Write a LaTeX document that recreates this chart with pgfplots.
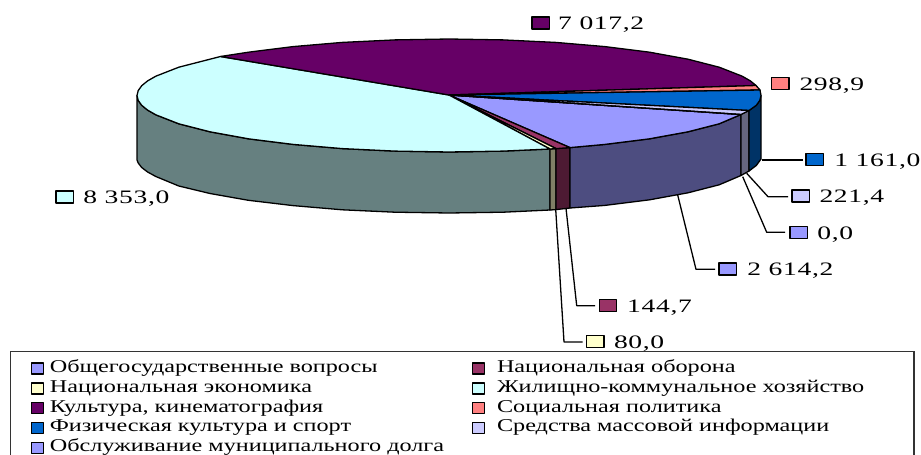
\documentclass[border=0pt]{standalone}
\usepackage{fontspec}
\usepackage{pgfplots}
\pgfplotsset{compat=1.18}
\setmainfont{Liberation Serif}
\newfontfamily\lbf[FakeStretch=1.45,LetterSpace=3.5]{Liberation Serif}
\newfontfamily\lgf[FakeStretch=1.345]{Liberation Serif}
\definecolor{cA}{HTML}{9999FF}\definecolor{cAw}{HTML}{4D4D80}
\definecolor{cB}{HTML}{993366}\definecolor{cBw}{HTML}{4D1A33}
\definecolor{cC}{HTML}{FFFFCC}\definecolor{cCw}{HTML}{808066}
\definecolor{cD}{HTML}{CCFFFF}\definecolor{cDw}{HTML}{668080}
\definecolor{cE}{HTML}{660066}
\definecolor{cF}{HTML}{FF8080}
\definecolor{cG}{HTML}{0066CC}\definecolor{cGw}{HTML}{003366}
\definecolor{cH}{HTML}{CCCCFF}\definecolor{cHw}{HTML}{666680}
\newcommand\lab[5]{% x y colour text textshift
  \addplot[forget plot,only marks,mark=square*,mark size=6pt,
    mark options={fill=#3,draw=black,line width=1.4pt,xscale=1.45},
    point meta=explicit symbolic,nodes near coords,
    nodes near coords style={anchor=west,font=\lbf\fontsize{19}{19}\selectfont,text=black,inner sep=0pt,xshift=#5pt,yshift=-2pt}]
    coordinates {(#1,#2)[#4]};}
\newcommand\lL[1]{\makebox[424pt][l]{\hspace*{4pt}#1}}
\newcommand\lR[1]{\makebox[405pt][l]{\hspace*{10pt}#1}}
\begin{document}
\begin{tikzpicture}
\useasboundingbox (0,0) rectangle (921pt,455pt);
\begin{axis}[at={(0,0)},anchor=south west,scale only axis,width=921pt,height=455pt,
  xmin=0,xmax=921,ymin=0,ymax=455,y dir=reverse,hide axis,clip=false,
  every axis plot/.append style={line width=1.3pt,line join=round},
  legend columns=2,
  legend image code/.code={\draw[#1,line width=1.2pt] (0pt,-5.5pt) rectangle (12pt,5.5pt);},
  legend cell align=left,
  legend style={at={(axis cs:10,351)},anchor=north west,draw=black!80,line width=1.2pt,
    inner xsep=20pt,inner ysep=7pt,
    font=\lgf\fontsize{18}{18}\selectfont,
    nodes={text height=11.6pt,text depth=4.3pt,inner ysep=2pt},
    /tikz/every even column/.style={column sep=0pt}}
]
% side walls
\addplot[forget plot,fill=cDw,draw=black] coordinates {(550,149)(503.2,151.1)(449,152)(394.8,151.1)(342.3,148.6)(293,144.4)(248.4,138.8)(210,131.8)(178.8,123.8)(155.8,114.8)(147.6,110.1)(141.7,105.3)(138.2,100.4)(137,95.5)(137,160)(138.2,163)(141.7,167.5)(147.6,172)(155.8,176.5)(178.8,186)(210,193.5)(248.4,200.3)(293,205.6)(342.3,209.8)(394.8,212.2)(449,213)(503.2,212.2)(550,210)(550,149)};
\addplot[forget plot,fill=cCw,draw=black] coordinates {(550,149)(556,148.6)(556,209.6)(550,210)(550,149)};
\addplot[forget plot,fill=cBw,draw=black] coordinates {(556,148.6)(570,147.6)(570,208)(556,209.6)(556,148.6)};
\addplot[forget plot,fill=cAw,draw=black] coordinates {(570,147.6)(605,144.4)(649.6,138.8)(688,131.8)(719.2,123.8)(741,114.5)(741,175.5)(719.2,184.8)(688,192.8)(649.6,199.8)(605,205.4)(570,208)(570,147.6)};
\addplot[forget plot,fill=cHw,draw=black] coordinates {(741,114.5)(749,110.5)(749,171)(741,175.5)(741,114.5)};
\addplot[forget plot,fill=cGw,draw=black] coordinates {(749,110.5)(756.3,105.3)(759.8,100.4)(761,95.5)(761,159)(756.3,165.5)(749,171)(749,110.5)};
% leader lines
\addplot[forget plot,black] coordinates {(761.7,160)(802.7,160)};
\addplot[forget plot,black] coordinates {(746.7,173.3)(768,196.7)(788,196.7)};
\addplot[forget plot,black] coordinates {(742.7,176.7)(766.7,232.3)(785,232.3)};
\addplot[forget plot,black] coordinates {(677.7,195)(696,269.3)(715,269.3)};
\addplot[forget plot,black] coordinates {(566,208.3)(576.7,305.7)(595,305.7)};
\addplot[forget plot,black] coordinates {(555.7,209.3)(564,342)(582.7,342)};
% top faces, in legend order
\addplot[fill=cA,draw=black] coordinates {(449,95)(741,114.5)(719.2,123.8)(688,131.8)(649.6,138.8)(605,144.4)(570,147.6)(449,95)};
\addlegendentry{\lL{Общегосударственные вопросы}}
\addplot[fill=cB,draw=black] coordinates {(449,95)(570,147.6)(556,148.6)(449,95)};
\addlegendentry{\lR{Национальная оборона}}
\addplot[fill=cC,draw=black] coordinates {(449,95)(556,148.6)(550,149)(449,95)};
\addlegendentry{\lL{Национальная экономика}}
\addplot[fill=cD,draw=black] coordinates {(449,95)(550,149)(503.2,151.1)(449,152)(394.8,151.1)(342.3,148.6)(293,144.4)(248.4,138.8)(210,131.8)(178.8,123.8)(155.8,114.8)(147.6,110.1)(141.7,105.3)(138.2,100.4)(137,95.5)(138.2,90.6)(141.7,85.7)(147.6,80.9)(155.8,76.2)(178.8,67.2)(210,59.2)(220.5,56.5)(449,95)};
\addlegendentry{\lR{Жилищно-коммунальное хозяйство}}
\addplot[fill=cE,draw=black] coordinates {(449,95)(220.5,56.5)(248.4,52.2)(293,46.6)(342.3,42.4)(394.8,39.9)(449,39)(503.2,39.9)(555.7,42.4)(605,46.6)(649.6,52.2)(688,59.2)(719.2,67.2)(742.2,76.2)(750.4,80.9)(756,85.5)(449,95)};
\addlegendentry{\lL{Культура, кинематография}}
\addplot[fill=cF,draw=black] coordinates {(449,95)(756,85.5)(760,90)(449,95)};
\addlegendentry{\lR{Социальная политика}}
\addplot[fill=cG,draw=black] coordinates {(449,95)(760,90)(761,95.5)(759.8,100.4)(756.3,105.3)(749,110.5)(449,95)};
\addlegendentry{\lL{Физическая культура и спорт}}
\addplot[fill=cH,draw=black] coordinates {(449,95)(749,110.5)(741,114.5)(449,95)};
\addlegendentry{\lR{Средства массовой информации}}
\addplot[fill=cA,draw=black] coordinates {(449,95)(741,114.5)(449,95)};
\addlegendentry{\lL{Обслуживание муниципального долга}}
% data labels with keys
\lab{540.5}{23}{cE}{7 017,2}{17}
\lab{780.3}{83.5}{cF}{298,9}{18.5}
\lab{814.7}{159.5}{cG}{1 161,0}{19}
\lab{800.8}{196}{cH}{221,4}{18}
\lab{798.7}{232.5}{cA}{0,0}{18}
\lab{727.7}{268.8}{cA}{2 614,2}{19}
\lab{608}{305.5}{cB}{144,7}{18.5}
\lab{595.3}{341.7}{cC}{80,0}{18}
\lab{64.7}{197}{cD}{8 353,0}{18}
\end{axis}
\end{tikzpicture}
\end{document}
